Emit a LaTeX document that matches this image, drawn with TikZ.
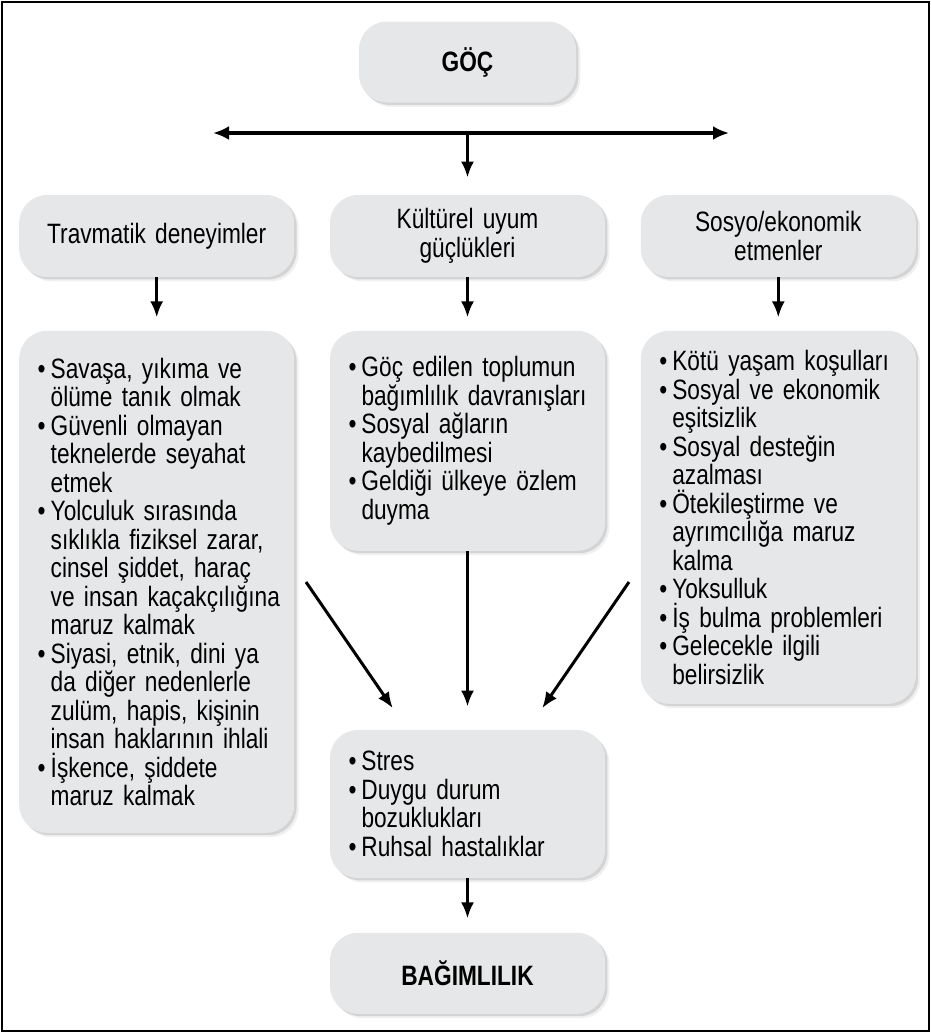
\documentclass[tikz,border=0pt]{standalone}
\usepackage{fontspec}
\setmainfont{Liberation Sans}[FakeStretch=0.81,WordSpace=0.75]
\usetikzlibrary{arrows.meta,positioning,shadows}
\definecolor{boxgray}{HTML}{E6E7E8}
\newcommand{\bl}{\makebox[6.5pt][l]{\textbullet}}
\newcommand{\ind}{\hspace*{6.5pt}}

\begin{document}
\begin{tikzpicture}[x=0.5pt,y=-0.5pt,
  node distance=17.5pt,>=Latex,
  box/.style={fill=boxgray,rounded corners=14pt,
    drop shadow={shadow xshift=2.2pt,shadow yshift=-2.2pt,opacity=.12},
    drop shadow={shadow xshift=1.2pt,shadow yshift=-1.2pt,opacity=.25},
    font=\fontsize{14}{14.25}\selectfont},
  headbox/.style={box,minimum width=108.5pt,minimum height=40.5pt,
    font=\fontsize{14}{14.25}\selectfont\bfseries},
  topbox/.style={box,text width=119pt,inner xsep=9.25pt,align=center,
    minimum height=41pt},
  listbox/.style={box,text width=119pt,inner xsep=9.25pt,align=left},
  arr/.style={-{Latex[length=8pt,width=6.5pt]},line width=1.5pt}]
\useasboundingbox (0,0) rectangle (931,1034);
\draw[line width=1pt] (2,2) rectangle (929,1031);

\node[headbox] (goc) at (467.5,62) {GÖÇ};

\node[topbox] (kultur) at (467.5,236) {Kültürel uyum\\güçlükleri};
\node[topbox,left=of kultur] (travma) {Travmatik deneyimler};
\node[topbox,right=of kultur] (sosyo) {Sosyo/ekonomik\\etmenler};

\node[listbox,minimum height=251pt,below=26.5pt of travma] (travmalist)
  {\bl Savaşa, yıkıma ve\\\ind ölüme tanık olmak\\
   \bl Güvenli olmayan\\\ind teknelerde seyahat\\\ind etmek\\
   \bl Yolculuk sırasında\\\ind \mbox{sıklıkla fiziksel zarar,}\\
   \ind \mbox{cinsel şiddet, haraç}\\\ind \mbox{ve insan kaçakçılığına}\\
   \ind maruz kalmak\\
   \bl \mbox{Siyasi, etnik, dini ya}\\\ind \mbox{da diğer nedenlerle}\\
   \ind \mbox{zulüm, hapis, kişinin}\\\ind \mbox{insan haklarının ihlali}\\
   \bl İşkence, şiddete\\\ind maruz kalmak};
\node[listbox,minimum height=110pt,below=26.5pt of kultur] (kulturlist)
  {\bl \mbox{Göç edilen toplumun}\\\ind \mbox{bağımlılık davranışları}\\
   \bl Sosyal ağların\\\ind kaybedilmesi\\
   \bl \mbox{Geldiği ülkeye özlem}\\\ind duyma};
\node[listbox,minimum height=186.5pt,below=26.5pt of sosyo] (sosyolist)
  {\bl \mbox{Kötü yaşam koşulları}\\
   \bl \mbox{Sosyal ve ekonomik}\\\ind eşitsizlik\\
   \bl Sosyal desteğin\\\ind azalması\\
   \bl Ötekileştirme ve\\\ind \mbox{ayrımcılığa maruz}\\\ind kalma\\
   \bl Yoksulluk\\
   \bl \mbox{İş bulma problemleri}\\
   \bl Gelecekle ilgili\\\ind belirsizlik};

\node[listbox,minimum height=74pt] (stres) at (467.5,804)
  {\bl Stres\\
   \bl Duygu durum\\\ind bozuklukları\\
   \bl Ruhsal hastalıklar};
\node[headbox,minimum width=137.5pt,below=27pt of stres] (bagim) {BAĞIMLILIK};

% branching bar under the top node
\coordinate (barl) at (213,133);
\coordinate (barr) at (729,133);
\coordinate (barm) at (467.5,133);
\draw[line width=2pt,{Latex[length=8pt,width=7pt]}-{Latex[length=8pt,width=7pt]}]
  (barl) -- (barr);
\draw[arr,shorten >=8.5pt] (barm) -- (kultur.north);

\foreach \a/\b in {travma/travmalist,kultur/kulturlist,sosyo/sosyolist}
  \draw[arr,shorten >=6.5pt] (\a) -- (\b);

% converging arrows
\coordinate (lstart) at (306,582);
\coordinate (rstart) at (629,582);
\draw[arr,shorten >=13pt] (lstart) -- ([xshift=-30pt]stres.north);
\draw[arr,shorten >=11.5pt] (kulturlist.south) -- (stres.north);
\draw[arr,shorten >=13pt] (rstart) -- ([xshift=30pt]stres.north);
\draw[arr,shorten >=7pt] (stres) -- (bagim);
\end{tikzpicture}
\end{document}
